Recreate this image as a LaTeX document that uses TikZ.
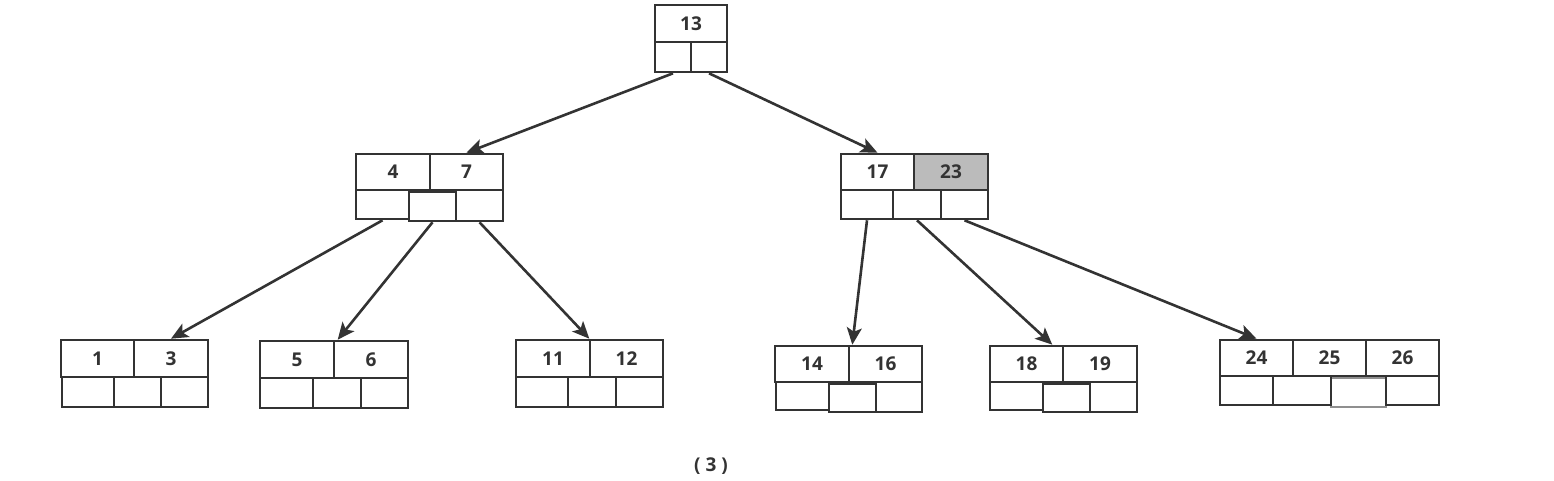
\documentclass[tikz,border=0pt]{standalone}
\usepackage{fontspec}
\setmainfont{Open Sans}
\usetikzlibrary{arrows.meta}
\definecolor{ink}{HTML}{333333}
\definecolor{shade}{HTML}{BBBBBB}
\newcommand\bcell[7][]{\node[cell,#1,minimum width={#5-#3},minimum height={#6-#4}] (#2) at ({(#3+#5)/2},{(#4+#6)/2}) {#7};}
\begin{document}
\begin{tikzpicture}[x=1pt,y=-1pt,
  cell/.style={draw=ink,line width=2.6pt,inner sep=0pt,rectangle,fill=white,
    font=\fontsize{19}{22}\selectfont\bfseries,text=ink},
  link/.style={draw=ink,line width=2.6pt,-{Stealth[length=17pt,width=15pt,inset=4pt]}},
  caption/.style={font=\fontsize{19}{22}\selectfont\bfseries,text=ink}]
\useasboundingbox (0,0) rectangle (1554,481);
% root
\bcell{rk}{655}{5}{727}{42}{13}
\bcell{rc1}{655}{42}{691}{72}{}
\bcell{rc2}{691}{42}{727}{72}{}
% 4 7
\bcell{ak4}{356}{154}{430}{190}{4}
\bcell{ak7}{430}{154}{503}{190}{7}
\bcell{ac1}{356}{190}{409}{219}{}
\bcell{ac2}{409}{192}{456}{221}{}
\bcell{ac3}{456}{190}{503}{221}{}
% 17 23
\bcell{bk17}{841}{154}{914}{190}{17}
\bcell[fill=shade]{bk23}{914}{154}{988}{190}{23}
\bcell{bc1}{841}{190}{893}{219}{}
\bcell{bc2}{893}{190}{941}{219}{}
\bcell{bc3}{941}{190}{988}{219}{}
% 1 3
\bcell{k1}{61}{340}{134}{377}{1}
\bcell{k3}{134}{340}{208}{377}{3}
\bcell{ma1}{62}{377}{114}{407}{}
\bcell{ma2}{114}{377}{161}{407}{}
\bcell{ma3}{161}{377}{208}{407}{}
% 5 6
\bcell{k5}{260}{341}{334}{378}{5}
\bcell{k6}{334}{341}{408}{378}{6}
\bcell{mb1}{260}{378}{313}{408}{}
\bcell{mb2}{313}{378}{361}{408}{}
\bcell{mb3}{361}{378}{408}{408}{}
% 11 12
\bcell{k11}{516}{340}{590}{377}{11}
\bcell{k12}{590}{340}{663}{377}{12}
\bcell{mc1}{516}{377}{568}{407}{}
\bcell{mc2}{568}{377}{616}{407}{}
\bcell{mc3}{616}{377}{663}{407}{}
% 14 16
\bcell{k14}{775}{346}{849}{382}{14}
\bcell{k16}{849}{346}{922}{382}{16}
\bcell{md1}{776}{382}{829}{410}{}
\bcell{md2}{829}{384}{876}{412}{}
\bcell{md3}{876}{382}{922}{412}{}
% 18 19
\bcell{k18}{990}{346}{1063}{382}{18}
\bcell{k19}{1063}{346}{1137}{382}{19}
\bcell{me1}{990}{382}{1043}{410}{}
\bcell{me2}{1043}{384}{1090}{412}{}
\bcell{me3}{1090}{382}{1137}{412}{}
% 24 25 26
\bcell[draw=ink!55]{mf3}{1331}{378}{1386}{407}{}
\bcell{k24}{1220}{340}{1293}{376}{24}
\bcell{k25}{1293}{340}{1366}{376}{25}
\bcell{k26}{1366}{340}{1439}{376}{26}
\bcell{mf1}{1220}{376}{1273}{405}{}
\bcell{mf2}{1273}{376}{1331}{405}{}
\bcell[fill=none]{mf4}{1386}{376}{1439}{405}{}
% caption
\node[caption] (lbl) at (711,466) {( 3 )};
% links
\draw[link] (rc1.south) -- (ak7.north);
\draw[link] (rc2.south) -- (bk17.north);
\draw[link] (ac1.south) -- (k3.north);
\draw[link] (ac2.south) -- ([xshift=5pt]k6.north west);
\draw[link] (ac3.south) -- ([xshift=-2pt]k11.north east);
\draw[link] (bc1.south) -- ([xshift=2pt]k14.north east);
\draw[link] (bc2.south) -- ([xshift=-12pt]k18.north east);
\draw[link] (bc3.south) -- (k24.north);
\end{tikzpicture}
\end{document}
